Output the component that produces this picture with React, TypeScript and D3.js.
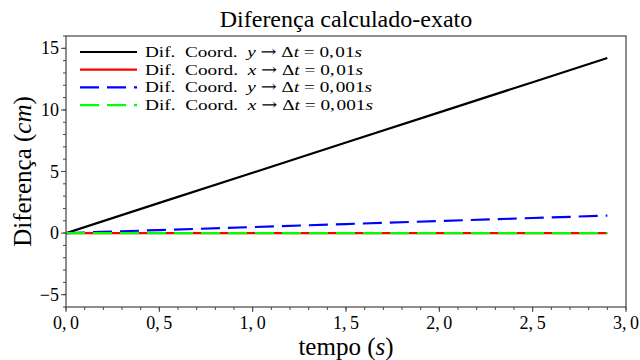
import React from "react";
import * as d3 from "d3";

const times = [0, 0.5, 1.0, 1.5, 2.0, 2.5, 2.9];
const difY01 = [0, 2.45, 4.9, 7.35, 9.8, 12.25, 14.21];
const difX01 = [0, 0, 0, 0, 0, 0, 0];
const difY001 = [0, 0.245, 0.49, 0.735, 0.98, 1.225, 1.42];
const difX001 = [0, 0, 0, 0, 0, 0, 0];
const xTicks = [0, 0.5, 1.0, 1.5, 2.0, 2.5, 3.0];
const yTicks = [-5, 0, 5, 10, 15];

const seriesList = [
  { name: "y", dt: "0,\u200a01", values: difY01, color: "#000000", dash: "", len: 217 },
  { name: "x", dt: "0,\u200a01", values: difX01, color: "#ff0000", dash: "", len: 218 },
  { name: "y", dt: "0,\u200a001", values: difY001, color: "#0000ff", dash: "19,8", len: 227 },
  { name: "x", dt: "0,\u200a001", values: difX001, color: "#00ff00", dash: "19,8", len: 228 },
];

const W = 640, H = 360;
const L = 66, R = 626, T = 36, B = 307;
const FONT = "'Liberation Serif', 'DejaVu Serif', serif";

export default function App() {
  const x = d3.scaleLinear().domain([0, 3]).range([L, R]);
  const y = d3.scaleLinear().domain([-6, 16]).range([B, T]);
  const line = d3.line<number>().x((_, i) => x(times[i])).y((v) => y(v));
  const xMinor = d3.range(0, 30.5, 1).map((v) => v / 10);
  const yMinor = d3.range(-6, 16.5, 1);
  const fmt = (v: number) => v.toFixed(1).replace(".", ",\u2009");
  const fmtY = (v: number) => (v < 0 ? "\u2212" + Math.abs(v) : String(v));
  return (
    <svg width={W} height={H} style={{ position: "absolute", left: 0, top: 0, background: "#fff" }} fontFamily={FONT}>
      <rect x={0} y={0} width={W} height={H} fill="#fff" />
      <text x={346} y={27} textAnchor="middle" fontSize={24}>Diferença calculado-exato</text>
      <defs>
        <clipPath id="clip"><rect x={L} y={T} width={R - L} height={B - T} /></clipPath>
      </defs>
      <g clipPath="url(#clip)">
        {seriesList.map((s, i) => (
          <path key={i} d={line(s.values) || ""} fill="none" stroke={s.color} strokeWidth={2.2} strokeDasharray={s.dash || undefined} />
        ))}
      </g>
      <rect x={L} y={T} width={R - L} height={B - T} fill="none" stroke="#444" strokeWidth={1.2} />
      {xMinor.map((v, i) => (
        <line key={"xm" + i} x1={x(v)} x2={x(v)} y1={B} y2={B + 3} stroke="#444" />
      ))}
      {xTicks.map((v, i) => (
        <g key={"xt" + i}>
          <line x1={x(v)} x2={x(v)} y1={B} y2={B + 5} stroke="#444" />
          <text x={x(v)} y={329} textAnchor="middle" fontSize={18}>{fmt(v)}</text>
        </g>
      ))}
      {yMinor.map((v, i) => (
        <line key={"ym" + i} x1={L - 3} x2={L} y1={y(v)} y2={y(v)} stroke="#444" />
      ))}
      {yTicks.map((v, i) => (
        <g key={"yt" + i}>
          <line x1={L - 5} x2={L} y1={y(v)} y2={y(v)} stroke="#444" />
          <text x={L - 7} y={y(v) + 6} textAnchor="end" fontSize={18}>{fmtY(v)}</text>
        </g>
      ))}
      <text x={346} y={355} textAnchor="middle" fontSize={25}>
        tempo (<tspan fontStyle="italic">s</tspan>)
      </text>
      <text transform={`translate(31,${(T + B) / 2}) rotate(-90)`} textAnchor="middle" fontSize={25}>
        Diferença (<tspan fontStyle="italic">cm</tspan>)
      </text>
      {seriesList.map((s, i) => {
        const ly = 52 + i * 17.7;
        return (
          <g key={"lg" + i}>
            <line x1={80} x2={137} y1={ly} y2={ly} stroke={s.color} strokeWidth={2.2} strokeDasharray={s.dash || undefined} />
            <text x={145} y={ly + 5} fontSize={15.5} textLength={s.len} lengthAdjust="spacingAndGlyphs">
              Dif.{"\u00a0\u00a0"}Coord.{"\u00a0\u00a0"}<tspan fontStyle="italic">{s.name}</tspan>{" "}
              <tspan fontFamily="'DejaVu Serif'">{"\u2192"}</tspan>{" \u0394"}
              <tspan fontStyle="italic">t</tspan>{" = " + s.dt}<tspan fontStyle="italic">s</tspan>
            </text>
          </g>
        );
      })}
    </svg>
  );
}
